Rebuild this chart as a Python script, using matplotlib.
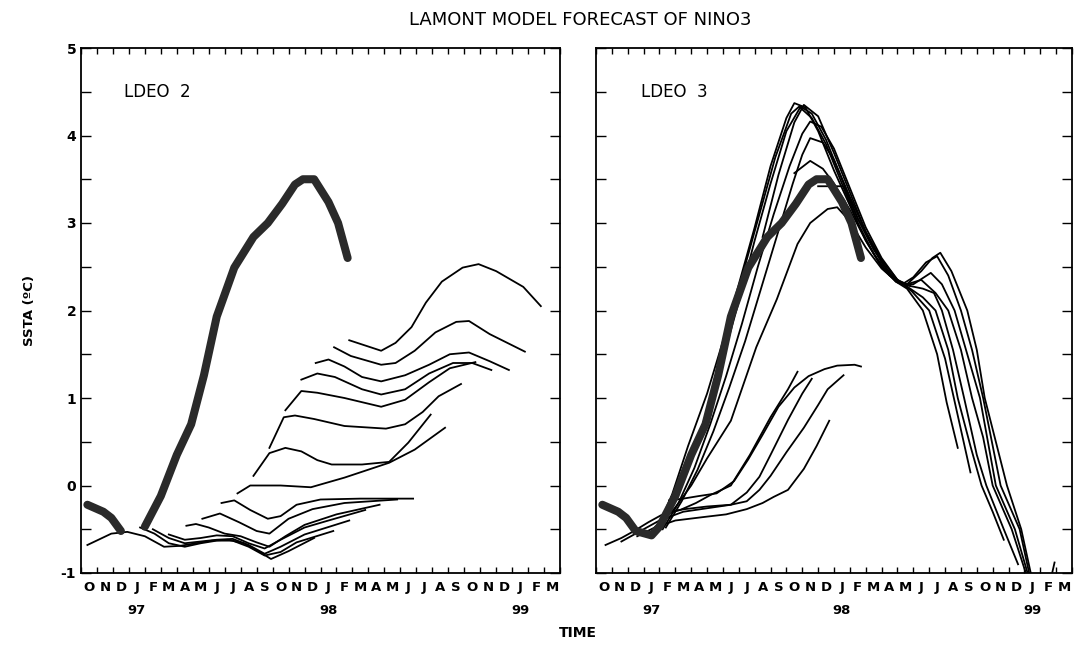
import matplotlib
matplotlib.use("Agg")
import matplotlib.pyplot as plt
import matplotlib.transforms as mtransforms
import numpy as np

plt.rcParams['font.family'] = ['DejaVu Sans']

# ---------------- data ----------------
# x axis: months counted from start of Oct 1996 (0) to end of Mar 1999 (30)
month_labels = list("ONDJFMAMJJASONDJFMAMJJASONDJFM")
year_labels = ["97", "98", "99"]
year_pos = [3.5, 15.5, 27.5]
y_ticks = [-1, 0, 1, 2, 3, 4, 5]

# observed NINO3 SSTA (thick line)
obs_m = [0.4, 1.4, 1.9, 2.5, 3.5, 4.0, 5.0, 6.0, 6.9, 7.7, 8.5, 9.6, 10.8,
         11.7, 12.6, 13.4, 13.9, 14.6, 15.5, 16.1, 16.7]
obs_v = [-0.22, -0.30, -0.37, -0.52, -0.57, -0.47, -0.12, 0.35, 0.70, 1.26,
         1.93, 2.49, 2.84, 3.00, 3.22, 3.44, 3.50, 3.50, 3.24, 3.00, 2.60]

# LDEO 2 forecasts
ldeo2_m = [
    [0.4, 1.9, 2.9, 4.0, 5.2, 6.2, 7.2, 8.2, 9.2, 10.2, 11.2, 11.9, 13.0, 14.6],
    [3.7, 4.6, 5.5, 6.5, 7.5, 8.5, 9.5, 10.5, 11.5, 12.5, 13.5, 15.8],
    [4.5, 5.5, 6.5, 7.5, 8.5, 9.5, 10.5, 11.5, 12.5, 14.0, 16.8],
    [5.5, 6.5, 7.5, 8.5, 9.5, 10.5, 11.5, 12.5, 14.0, 15.5, 17.8],
    [6.6, 7.2, 8.0, 9.0, 10.0, 11.0, 11.8, 12.8, 14.0, 16.0, 18.7],
    [7.6, 8.7, 9.9, 11.0, 11.8, 13.0, 14.5, 16.5, 19.8],
    [8.8, 9.6, 10.6, 11.7, 12.5, 13.5, 15.0, 17.5, 20.8],
    [9.8, 10.6, 12.5, 14.4, 16.5, 19.3, 20.9, 22.8],
    [10.8, 11.8, 12.8, 13.8, 14.8, 15.7, 17.6, 19.3, 20.5, 21.9],
    [11.8, 12.7, 13.4, 14.6, 16.5, 19.1, 20.3, 21.4, 22.4, 23.8],
    [12.8, 13.8, 14.8, 16.5, 18.8, 20.3, 21.8, 23.1, 24.7],
    [13.8, 14.8, 15.9, 17.6, 18.8, 20.3, 21.8, 23.3, 24.5, 25.7],
    [14.7, 15.5, 16.5, 17.6, 18.8, 20.3, 21.8, 23.1, 24.3, 25.6, 26.8],
    [15.85, 16.9, 18.8, 19.7, 20.9, 22.2, 23.5, 24.3, 25.6, 27.8],
    [16.8, 18.8, 19.7, 20.7, 21.6, 22.6, 23.9, 24.9, 26.0, 27.7, 28.8],
]
ldeo2_v = [
    [-0.68, -0.55, -0.53, -0.58, -0.70, -0.69, -0.66, -0.63, -0.62, -0.66, -0.76, -0.84, -0.75, -0.60],
    [-0.48, -0.55, -0.66, -0.70, -0.66, -0.63, -0.63, -0.70, -0.80, -0.76, -0.65, -0.52],
    [-0.50, -0.60, -0.66, -0.64, -0.62, -0.61, -0.68, -0.78, -0.70, -0.56, -0.40],
    [-0.56, -0.62, -0.60, -0.57, -0.58, -0.66, -0.72, -0.62, -0.48, -0.40, -0.28],
    [-0.46, -0.44, -0.48, -0.55, -0.58, -0.65, -0.70, -0.58, -0.45, -0.33, -0.22],
    [-0.38, -0.32, -0.42, -0.52, -0.55, -0.38, -0.27, -0.20, -0.16],
    [-0.20, -0.17, -0.28, -0.38, -0.35, -0.22, -0.16, -0.15, -0.15],
    [-0.09, 0.00, 0.00, -0.02, 0.09, 0.26, 0.41, 0.66],
    [0.11, 0.37, 0.43, 0.39, 0.29, 0.24, 0.24, 0.27, 0.49, 0.81],
    [0.43, 0.78, 0.80, 0.76, 0.68, 0.65, 0.70, 0.84, 1.02, 1.16],
    [0.86, 1.08, 1.06, 1.00, 0.90, 0.98, 1.18, 1.34, 1.41],
    [1.21, 1.28, 1.24, 1.10, 1.04, 1.10, 1.28, 1.40, 1.40, 1.32],
    [1.40, 1.44, 1.36, 1.24, 1.19, 1.26, 1.38, 1.50, 1.52, 1.42, 1.32],
    [1.58, 1.48, 1.38, 1.40, 1.54, 1.75, 1.87, 1.88, 1.73, 1.53],
    [1.66, 1.54, 1.63, 1.81, 2.09, 2.33, 2.49, 2.53, 2.45, 2.27, 2.05],
]

# LDEO 3 forecasts
ldeo3_m = [
    [0.6, 1.6, 2.4, 3.3, 4.1, 5.3, 6.3, 7.2, 8.5, 9.7, 11.0, 12.1, 12.7],
    [1.6, 2.8, 4.0, 5.5, 7.0, 8.5, 9.5, 10.3, 11.0, 12.1, 13.0, 13.6],
    [2.6, 3.7, 5.0, 6.8, 8.2, 9.5, 10.5, 11.2, 12.1, 13.1, 13.9, 14.7],
    [3.6, 4.6, 5.6, 7.0, 8.5, 9.5, 10.3, 11.0, 12.0, 13.1, 14.0, 14.6, 15.6],
    [4.6, 5.5, 6.5, 7.6, 8.7, 9.6, 10.5, 11.5, 12.5, 13.4, 14.4, 15.2, 16.3, 16.7],
    [3.8, 4.8, 5.8, 7.0, 8.0, 9.0, 10.0, 11.0, 12.0, 12.5, 13.2, 14.0, 15.0,
     16.0, 17.0, 18.0, 18.9, 19.6, 20.6, 21.5, 22.1, 22.8],
    [4.0, 5.0, 6.0, 7.0, 8.0, 9.0, 10.0, 11.0, 12.0, 12.9, 13.6, 14.5, 15.5,
     16.5, 17.5, 18.5, 19.2, 19.9, 21.0, 22.0, 22.8, 23.6],
    [4.2, 5.2, 6.2, 7.2, 8.2, 9.2, 10.2, 11.2, 12.2, 13.0, 13.5, 14.2, 15.0,
     16.0, 17.0, 18.0, 19.0, 19.8, 20.6, 21.4, 22.2, 22.8, 23.6, 24.3, 25.0, 25.7],
    [4.4, 5.4, 6.4, 7.4, 8.4, 9.4, 10.4, 11.4, 12.4, 13.0, 13.5, 14.3, 15.0,
     16.0, 17.0, 18.0, 19.0, 19.8, 20.6, 21.3, 21.8, 22.5, 23.2, 24.0, 24.6, 25.7, 26.6],
    [12.5, 13.5, 14.3, 15.0, 16.0, 17.0, 18.0, 18.9, 19.6, 20.5, 21.4, 22.2,
     23.0, 23.7, 24.4, 25.0, 26.2, 27.0, 27.2],
    [14.0, 15.6, 16.5, 17.5, 18.5, 19.3, 20.0, 21.1, 21.8, 22.6, 23.4, 24.2,
     25.2, 26.4, 27.2, 27.4],
    [3.7, 5.0, 6.0, 7.0, 8.5, 10.1, 11.4, 12.7, 13.5, 14.6, 15.2, 16.0, 17.0,
     18.0, 19.0, 19.8],
    [9.3, 10.3, 11.3, 12.3, 12.8, 13.6, 14.5, 15.5, 16.5, 17.5, 18.5, 19.3,
     20.0, 20.8, 21.5, 22.2, 23.0, 23.7, 24.4, 25.5, 26.7, 27.3, 27.5],
    [10.5, 11.5, 12.5, 13.1, 14.0, 15.0, 16.0, 17.0, 18.0, 18.9, 19.6, 20.5,
     21.2, 21.7, 22.4, 23.4, 24.0, 24.5, 25.2, 25.9, 26.8, 27.4, 27.9, 28.5, 28.9],
]
ldeo3_v = [
    [-0.68, -0.60, -0.52, -0.42, -0.34, -0.28, -0.20, -0.11, 0.00, 0.35, 0.78, 1.10, 1.30],
    [-0.64, -0.52, -0.40, -0.30, -0.26, -0.22, -0.08, 0.10, 0.35, 0.75, 1.05, 1.22],
    [-0.58, -0.48, -0.40, -0.36, -0.33, -0.27, -0.20, -0.13, -0.05, 0.19, 0.45, 0.74],
    [-0.50, -0.30, -0.27, -0.24, -0.22, -0.18, -0.05, 0.11, 0.38, 0.66, 0.92, 1.10, 1.26],
    [-0.17, -0.15, -0.12, -0.09, 0.05, 0.30, 0.58, 0.90, 1.12, 1.25, 1.33, 1.37, 1.38, 1.36],
    [-0.52, -0.10, 0.45, 1.05, 1.65, 2.30, 2.95, 3.65, 4.20, 4.37, 4.32, 4.05, 3.60,
     3.20, 2.80, 2.50, 2.33, 2.25, 2.00, 1.50, 0.95, 0.43],
    [-0.50, -0.15, 0.30, 0.85, 1.45, 2.10, 2.80, 3.45, 4.05, 4.33, 4.25, 3.95, 3.50,
     3.05, 2.70, 2.42, 2.32, 2.22, 2.00, 1.45, 0.80, 0.15],
    [-0.50, -0.20, 0.20, 0.70, 1.25, 1.85, 2.50, 3.10, 3.65, 4.02, 4.16, 4.10, 3.85,
     3.40, 2.95, 2.60, 2.35, 2.25, 2.15, 2.00, 1.55, 1.00, 0.45, 0.00, -0.30, -0.62],
    [-0.48, -0.18, 0.18, 0.62, 1.12, 1.65, 2.25, 2.85, 3.45, 3.78, 3.97, 3.92, 3.72,
     3.30, 2.90, 2.58, 2.35, 2.28, 2.25, 2.20, 2.00, 1.55, 1.00, 0.35, 0.00, -0.50, -0.90],
    [3.57, 3.71, 3.62, 3.45, 3.15, 2.80, 2.50, 2.33, 2.30, 2.35, 2.20, 2.00,
     1.55, 1.00, 0.55, 0.00, -0.50, -0.95, -1.05],
    [3.42, 3.42, 3.05, 2.70, 2.42, 2.30, 2.30, 2.43, 2.30, 2.00, 1.50, 1.00,
     0.00, -0.50, -1.00, -1.10],
    [-0.52, -0.25, 0.00, 0.31, 0.74, 1.58, 2.13, 2.76, 3.00, 3.16, 3.18, 3.02, 2.72,
     2.48, 2.32, 2.28],
    [2.45, 3.10, 3.75, 4.25, 4.33, 4.20, 3.90, 3.45, 3.00, 2.65, 2.40, 2.30,
     2.38, 2.55, 2.62, 2.40, 2.00, 1.55, 1.00, 0.00, -0.50, -1.00, -1.10],
    [2.84, 3.55, 4.15, 4.35, 4.22, 3.80, 3.35, 2.90, 2.55, 2.35, 2.30, 2.45,
     2.60, 2.66, 2.45, 2.00, 1.55, 1.00, 0.50, 0.00, -0.50, -1.00, -1.30, -1.20, -0.88],
]

panel_names = ["LDEO  2", "LDEO  3"]

# ---------------- figure ----------------
fig = plt.figure(figsize=(10.75, 6.46), dpi=100)
ax_l = fig.add_axes([81 / 1075, 1 - 573 / 646, 479 / 1075, 525 / 646])
ax_r = fig.add_axes([596 / 1075, 1 - 573 / 646, 476 / 1075, 525 / 646])

thin = dict(color="black", lw=1.3, solid_joinstyle="round")
thick = dict(color="#2a2a2a", lw=5.8, solid_capstyle="round", solid_joinstyle="round")

obs_m_arr = np.array(obs_m)
obs_v_arr = np.array(obs_v)


def style_axes(ax, show_ylabels):
    ax.set_xlim(0, 30)
    ax.set_ylim(-1, 5)
    for s in ax.spines.values():
        s.set_linewidth(1.3)
    ax.set_xticks(np.arange(0, 31, 1))
    ax.set_xticklabels([])
    ax.set_xticks(np.arange(0.5, 30, 1), minor=True)
    ax.set_xticklabels(month_labels, minor=True, fontsize=9.5, fontweight="bold")
    ax.tick_params(axis="x", which="major", direction="in", length=4, width=1.0,
                   top=True, bottom=True)
    ax.tick_params(axis="x", which="minor", length=0, pad=6)
    ax.set_yticks(y_ticks)
    ax.set_yticks(np.arange(-0.5, 5, 1), minor=True)
    ax.tick_params(axis="y", which="both", direction="in", length=7, width=1.0,
                   left=True, right=True)
    if show_ylabels:
        ax.set_yticklabels([str(t) for t in y_ticks], fontsize=10, fontweight="bold")
    else:
        ax.set_yticklabels([])
    trans = mtransforms.blended_transform_factory(ax.transData, ax.transAxes)
    for lab, pos in zip(year_labels, year_pos):
        ax.text(pos, -0.072, lab, transform=trans, ha="center", va="center",
                fontsize=9.5, fontweight="bold")


# left panel
for m, v in zip(ldeo2_m, ldeo2_v):
    ax_l.plot(m, v, **thin)
left_mask = obs_m_arr != 3.5
ax_l.plot(obs_m_arr[:4], obs_v_arr[:4], **thick)
ax_l.plot(obs_m_arr[5:], obs_v_arr[5:], **thick)
style_axes(ax_l, True)
ax_l.text(2.7, 4.5, panel_names[0], fontsize=12, ha="left", va="center")

# right panel
for m, v in zip(ldeo3_m, ldeo3_v):
    ax_r.plot(m, v, **thin)
ax_r.plot(obs_m_arr, obs_v_arr, **thick)
style_axes(ax_r, False)
ax_r.text(2.85, 4.5, panel_names[1], fontsize=12, ha="left", va="center")

fig.text(580 / 1075, 1 - 20 / 646, "LAMONT MODEL FORECAST OF NINO3",
         ha="center", va="center", fontsize=13)
fig.text(578 / 1075, 1 - 633 / 646, "TIME", ha="center", va="center",
         fontsize=10, fontweight="bold")
fig.text(30 / 1075, 1 - 310 / 646, "SSTA (ºC)", ha="center", va="center",
         rotation=90, fontsize=9.5, fontweight="bold")

fig.savefig("out.png", dpi=100)
